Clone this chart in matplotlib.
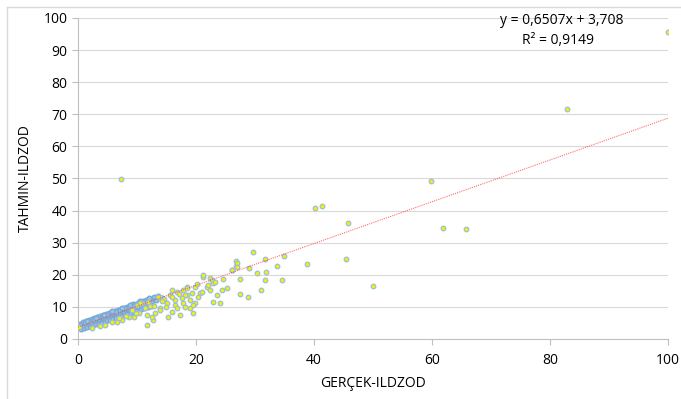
import matplotlib as mpl
mpl.use('Agg')
import matplotlib.pyplot as plt
from matplotlib.lines import Line2D

plt.rcParams['font.family'] = ['Open Sans', 'DejaVu Sans']

# scattered points (GERCEK, TAHMIN)
x_pts = [100.0, 82.9, 7.3, 59.9, 40.2, 41.4, 45.8, 61.9, 65.8,
         29.7, 26.8, 26.8, 31.7, 34.9, 29.0, 26.1, 38.8, 45.4, 50.0,
         30.3, 31.9, 33.7, 27.5, 31.7, 34.6, 31.0, 27.5, 28.8,
         26.9, 26.9, 26.1, 21.2, 22.4, 22.7, 22.9, 21.9, 19.8, 18.5,
         20.7, 19.3, 23.6, 24.4, 22.9, 24.1, 22.4, 17.8, 16.8, 15.9,
         15.6, 13.9, 18.5, 19.0, 19.8, 17.8, 16.4, 16.8, 19.0, 13.9,
         13.1, 11.7, 12.7, 11.7, 21.2, 20.3, 21.0, 18.5, 18.1, 16.4,
         15.1, 13.6, 11.9, 11.4, 13.9, 15.9, 18.1, 19.5, 19.5, 17.3,
         15.3, 12.5, 10.8, 0.2, 5.8, 6.6, 7.5, 8.6, 9.5, 10.3, 9.2,
         10.0, 10.5, 4.6, 3.7, 2.4, 14.6, 16.0, 17.2, 12.2, 14.3, 20.1,
         22.0, 23.3, 25.3, 24.6, 17.6, 15.0, 12.9, 9.8, 8.1, 7.0]
y_pts = [95.6, 71.7, 49.8, 49.2, 40.8, 41.4, 36.1, 34.6, 34.3,
         27.1, 24.3, 22.7, 24.9, 25.9, 22.1, 21.5, 23.4, 24.9, 16.5,
         20.6, 20.9, 22.7, 18.7, 18.4, 18.4, 15.3, 14.0, 13.1,
         23.7, 22.4, 21.5, 19.3, 19.0, 18.4, 17.4, 16.2, 16.2, 16.2,
         14.3, 14.3, 13.7, 15.3, 11.5, 11.2, 15.3, 15.3, 14.6, 15.3,
         13.7, 13.1, 13.7, 12.1, 11.2, 11.2, 10.6, 9.7, 9.7, 9.7,
         8.1, 7.5, 5.9, 4.4, 19.9, 13.1, 14.6, 15.9, 13.7, 12.1,
         11.2, 13.1, 11.5, 9.7, 9.0, 8.4, 10.0, 10.6, 8.1, 7.5,
         6.9, 6.9, 11.2, 3.6, 5.3, 5.3, 5.9, 6.9, 6.9, 8.1, 9.0,
         10.6, 11.2, 4.4, 3.9, 3.5, 12.5, 13.0, 14.0, 10.4, 11.8, 17.0,
         16.8, 17.9, 15.8, 18.6, 12.8, 9.9, 10.3, 8.0, 7.2, 6.4]

# dense band near the origin
band_x = [0.3, 0.8, 1.3, 1.8, 2.3, 2.8, 3.3, 3.8, 4.3, 4.8, 5.3, 5.8, 6.3,
          6.8, 7.3, 7.8, 8.3, 8.8, 9.3, 9.8, 10.4, 11.0, 11.6, 12.2, 12.9,
          0.1, 0.6, 1.1, 1.6, 2.1, 2.6, 3.1, 3.6, 4.1, 4.6, 5.1, 5.6, 6.1,
          6.6, 7.1, 7.6, 8.1, 8.6, 9.1, 9.6, 10.1, 10.7, 11.3, 11.9, 12.6,
          13.3, 0.5, 1.0, 1.5, 2.0, 2.5, 3.0, 3.5, 4.0, 4.5, 5.0, 5.5, 6.0,
          6.5, 7.0, 7.5, 8.0, 8.5, 9.0, 9.5, 10.0, 10.6, 11.2, 11.8, 12.4,
          0.9, 1.9, 2.9, 3.9, 4.9, 5.9, 6.9, 7.9, 8.9, 9.9, 10.9,
          0.4, 1.2, 2.0, 2.7, 3.4, 4.2, 5.0, 5.7, 6.4, 7.2, 8.0, 8.7,
          9.4, 10.2, 11.1, 12.0, 1.6, 3.0, 4.4, 5.8, 7.4, 8.9, 10.5,
          12.1, 13.6, 14.2]
band_y = [4.8, 5.2, 5.5, 5.8, 6.2, 6.4, 6.8, 7.1, 7.5, 7.7, 8.1, 8.5, 8.7,
          9.0, 9.4, 9.8, 10.0, 10.3, 10.8, 11.0, 11.4, 11.9, 12.1, 12.6,
          13.0, 3.8, 4.1, 4.4, 4.8, 5.1, 5.4, 5.8, 6.0, 6.4, 6.7, 7.1, 7.3,
          7.7, 8.0, 8.4, 8.6, 9.0, 9.3, 9.7, 9.9, 10.3, 10.7, 11.1, 11.4,
          11.9, 12.3, 3.2, 3.5, 3.7, 4.0, 4.3, 4.6, 4.8, 5.1, 5.4, 5.8, 6.0,
          6.3, 6.6, 7.0, 7.2, 7.5, 7.8, 8.2, 8.5, 8.8, 9.2, 9.7, 10.0, 10.4,
          4.4, 5.1, 5.8, 6.5, 7.2, 7.9, 8.5, 9.2, 9.9, 10.5, 11.2,
          4.3, 4.9, 5.4, 5.9, 6.3, 6.9, 7.5, 8.0, 8.3, 8.9, 9.5, 9.9,
          10.4, 11.0, 11.6, 12.2, 5.6, 6.6, 7.6, 8.6, 9.7, 10.7, 11.8,
          12.9, 13.4, 12.9]

slope = 0.6507
intercept = 3.708
eq_text = 'y = 0,6507x + 3,708'
r2_text = 'R² = 0,9149'

x_ticks = [0, 20, 40, 60, 80, 100]
y_ticks = [0, 10, 20, 30, 40, 50, 60, 70, 80, 90, 100]

#======================================================================

fig = plt.figure(figsize=(6.81, 3.99), dpi=100)
ax = fig.add_axes([0.1145, 0.1504, 0.8665, 0.8046])

grid_c = '#d9d9d9'
for y in y_ticks[1:]:
    ax.axhline(y, color=grid_c, lw=0.8, zorder=0)

ax.scatter(x_pts, y_pts, s=11, facecolor='#f2f200', edgecolor='#9dbfd9',
           linewidths=0.9, zorder=3)
ax.scatter(band_x, band_y, s=11, facecolor='#9cc3e4', edgecolor='#7aaad4',
           linewidths=1.0, zorder=2.5)

ax.plot([0, 100], [intercept, intercept + slope*100], color='#ff3030',
        lw=0.8, ls=(0, (1, 1)), alpha=0.7, zorder=4)

ax.set_xlim(0, 100)
ax.set_ylim(0, 100)
ax.set_xticks(x_ticks)
ax.set_yticks(y_ticks)
ax.tick_params(axis='both', colors='#bfbfbf', labelcolor='black',
               labelsize=10, length=4, width=0.8)
ax.tick_params(axis='x', pad=6)
for side in ['top', 'right']:
    ax.spines[side].set_visible(False)
for side in ['left', 'bottom']:
    ax.spines[side].set_color('#bfbfbf')
    ax.spines[side].set_linewidth(0.8)

ax.set_xlabel('GERÇEK-ILDZOD', fontsize=10, labelpad=6)
ax.set_ylabel('TAHMIN-ILDZOD', fontsize=10, labelpad=8)

fig.text(562/681, 1 - 20/399, eq_text, ha='center', va='center',
         fontsize=10)
fig.text(558/681, 1 - 41/399, r2_text, ha='center', va='center',
         fontsize=10)

# outer chart frame
fig.add_artist(Line2D([7/681, 7/681], [0, 1 - 7/399],
                      color='#d9d9d9', lw=1, transform=fig.transFigure))
fig.add_artist(Line2D([7/681, 1], [1 - 7/399, 1 - 7/399],
                      color='#d9d9d9', lw=1, transform=fig.transFigure))

fig.savefig('out.png', dpi=100)
